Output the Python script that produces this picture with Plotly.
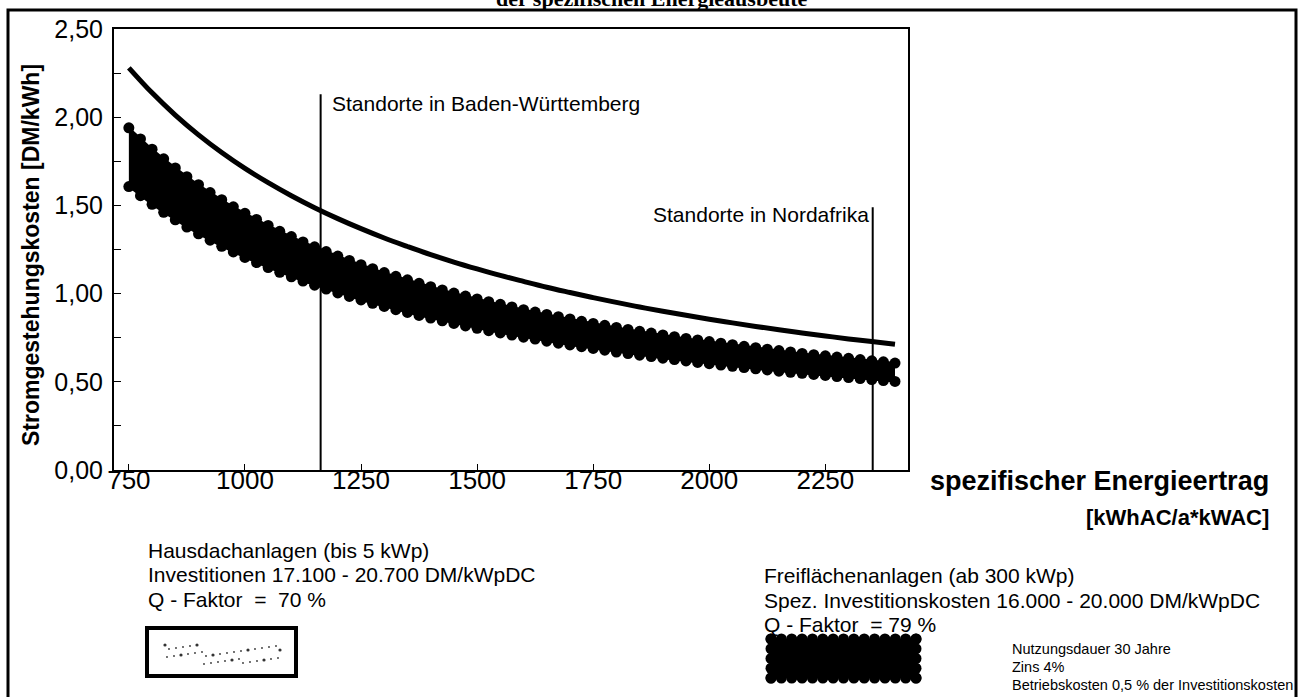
import plotly.graph_objects as go

# ---------------- data ----------------
# spezifischer Energieertrag [kWhAC/a*kWAC]
x_upper = [750, 800, 850, 900, 950, 1000, 1050, 1100, 1150, 1200, 1250, 1300,
           1350, 1400, 1450, 1500, 1550, 1600, 1650, 1700, 1750, 1800, 1850,
           1900, 1950, 2000, 2050, 2100, 2150, 2200, 2250, 2300, 2350, 2400]
# upper solid curve, Stromgestehungskosten [DM/kWh]
y_upper = [2.280, 2.138, 2.012, 1.900, 1.800, 1.710, 1.629, 1.555, 1.487, 1.425,
           1.368, 1.315, 1.267, 1.221, 1.179, 1.140, 1.103, 1.069, 1.036, 1.006,
           0.977, 0.950, 0.924, 0.900, 0.877, 0.855, 0.834, 0.814, 0.795, 0.777,
           0.760, 0.743, 0.728, 0.713]

x_band = list(range(750, 2401, 25))
# upper edge of the dotted band (Freiflächen / Hausdach)
y_band_top = [1.940, 1.877, 1.819, 1.764, 1.712, 1.663, 1.617, 1.573, 1.532, 1.492,
              1.455, 1.420, 1.386, 1.353, 1.323, 1.293, 1.265, 1.238, 1.213, 1.188,
              1.164, 1.141, 1.119, 1.098, 1.078, 1.058, 1.039, 1.021, 1.003, 0.986,
              0.970, 0.954, 0.939, 0.924, 0.909, 0.895, 0.882, 0.869, 0.856, 0.843,
              0.831, 0.820, 0.808, 0.797, 0.786, 0.776, 0.766, 0.756, 0.746, 0.737,
              0.728, 0.719, 0.710, 0.701, 0.693, 0.685, 0.677, 0.669, 0.661, 0.654,
              0.647, 0.640, 0.633, 0.626, 0.619, 0.613, 0.606]
# lower edge of the dotted band
y_band_bot = [1.607, 1.555, 1.506, 1.461, 1.418, 1.377, 1.339, 1.303, 1.268, 1.236,
              1.205, 1.176, 1.148, 1.121, 1.095, 1.071, 1.048, 1.026, 1.004, 0.984,
              0.964, 0.945, 0.927, 0.909, 0.893, 0.876, 0.861, 0.846, 0.831, 0.817,
              0.803, 0.790, 0.777, 0.765, 0.753, 0.742, 0.730, 0.719, 0.709, 0.699,
              0.689, 0.679, 0.669, 0.660, 0.651, 0.643, 0.634, 0.626, 0.618, 0.610,
              0.603, 0.595, 0.588, 0.581, 0.574, 0.567, 0.560, 0.554, 0.548, 0.542,
              0.536, 0.530, 0.524, 0.518, 0.513, 0.507, 0.502]

x_ticks = [750, 1000, 1250, 1500, 1750, 2000, 2250]
y_ticks = [0.0, 0.5, 1.0, 1.5, 2.0, 2.5]
y_ticktext = ["0,00", "0,50", "1,00", "1,50", "2,00", "2,50"]

bw_x, bw_top = 1163, 2.13      # Standorte in Baden-Württemberg
na_x, na_top = 2352, 1.49      # Standorte in Nordafrika

# ---------------- layout geometry ----------------
W, H = 1301, 697
L, R, T, B = 114, 908, 29, 470


def px(x):
    return (x - L) / (R - L)


def py(y):
    return (B - y) / (B - T)


SANS = "Liberation Sans, Arial, sans-serif"

fig = go.Figure()

# band: upper edge then lower edge filled to it
fig.add_trace(go.Scatter(x=x_band, y=y_band_top, mode="lines+markers",
                         line=dict(color="black", width=2),
                         marker=dict(color="black", size=11),
                         showlegend=False, hoverinfo="skip"))
fig.add_trace(go.Scatter(x=x_band, y=y_band_bot, mode="lines+markers",
                         line=dict(color="black", width=2),
                         marker=dict(color="black", size=11),
                         fill="tonexty", fillcolor="black",
                         showlegend=False, hoverinfo="skip"))
# upper solid curve
fig.add_trace(go.Scatter(x=x_upper, y=y_upper, mode="lines",
                         line=dict(color="black", width=5, shape="spline"),
                         showlegend=False, hoverinfo="skip"))

shapes = []
# site marker lines
shapes.append(dict(type="line", xref="x", yref="y", x0=bw_x, x1=bw_x, y0=0, y1=bw_top,
                   line=dict(color="black", width=2)))
shapes.append(dict(type="line", xref="x", yref="y", x0=na_x, x1=na_x, y0=0, y1=na_top,
                   line=dict(color="black", width=2)))
# outer frame
shapes.append(dict(type="rect", xref="paper", yref="paper",
                   x0=px(8), x1=px(1296), y0=py(710), y1=py(10),
                   line=dict(color="black", width=3)))
# legend box Hausdach (white with a sparse dot texture)
shapes.append(dict(type="rect", xref="paper", yref="paper",
                   x0=px(147), x1=px(296), y0=py(676), y1=py(628),
                   line=dict(color="black", width=4), fillcolor="white"))
for k in range(36):
    cx = 165 + (k * 37) % 118
    cy = 645 + (k * 7) % 20
    rr = 0.9 if k % 5 else 1.6
    shapes.append(dict(type="circle", xref="paper", yref="paper",
                       x0=px(cx - rr), x1=px(cx + rr), y0=py(cy + rr), y1=py(cy - rr),
                       line=dict(width=0), fillcolor="#333333"))
# legend box Freiflächen (black, scalloped)
bx0, bx1, by0, by1 = 771, 916, 639, 678
shapes.append(dict(type="rect", xref="paper", yref="paper",
                   x0=px(bx0), x1=px(bx1), y0=py(by1), y1=py(by0),
                   line=dict(color="black", width=0), fillcolor="black"))
r = 5.5
n_h = 15
for i in range(n_h):
    cx = bx0 + (bx1 - bx0) * i / (n_h - 1)
    for cy in (by0, by1):
        shapes.append(dict(type="circle", xref="paper", yref="paper",
                           x0=px(cx - r), x1=px(cx + r), y0=py(cy + r), y1=py(cy - r),
                           line=dict(width=0), fillcolor="black"))
n_v = 5
for j in range(n_v):
    cy = by0 + (by1 - by0) * j / (n_v - 1)
    for cx in (bx0, bx1):
        shapes.append(dict(type="circle", xref="paper", yref="paper",
                           x0=px(cx - r), x1=px(cx + r), y0=py(cy + r), y1=py(cy - r),
                           line=dict(width=0), fillcolor="black"))

ann = []


def text(x, y, s, size, xanchor="left", yanchor="middle", bold=False, family=SANS, angle=0):
    ann.append(dict(xref="paper", yref="paper", x=px(x), y=py(y), text=s,
                    showarrow=False, xanchor=xanchor, yanchor=yanchor, textangle=angle,
                    font=dict(family=family, size=size, color="black",
                              weight="bold" if bold else "normal")))


# cut-off title at the very top
text(651, 13, "der spezifischen Energieausbeute", 22, xanchor="center", yanchor="bottom",
     bold=True, family="Liberation Serif, Times New Roman, serif")
# y-axis title
text(31, 255, "Stromgestehungskosten [DM/kWh]", 23, xanchor="center", yanchor="middle",
     bold=True, angle=-90)
# site labels
text(330, 104, "Standorte in Baden-Württemberg", 21)
text(651, 214, "Standorte in Nordafrika", 21)
# x-axis title
text(1271, 481, "spezifischer Energieertrag", 27, xanchor="right", bold=True)
text(1271, 517, "[kWhAC/a*kWAC]", 22, xanchor="right", bold=True)
# left block
text(146, 550, "Hausdachanlagen (bis 5 kWp)", 21)
text(146, 574, "Investitionen 17.100 - 20.700 DM/kWpDC", 21)
text(146, 599, "Q - Faktor  =  70 %", 21)
# right block
text(762, 575, "Freiflächenanlagen (ab 300 kWp)", 21)
text(762, 600, "Spez. Investitionskosten 16.000 - 20.000 DM/kWpDC", 21)
text(762, 624, "Q - Faktor  = 79 %", 21)
# small notes
text(1010, 649, "Nutzungsdauer 30 Jahre", 14.5)
text(1010, 667, "Zins 4%", 14.5)
text(1010, 685, "Betriebskosten 0,5 % der Investitionskosten", 14.5)

fig.update_layout(
    width=W, height=H,
    margin=dict(l=L, r=W - R, t=T, b=H - B, pad=0),
    paper_bgcolor="white", plot_bgcolor="white",
    shapes=shapes, annotations=ann,
    showlegend=False,
    font=dict(family=SANS, color="black"),
)
fig.update_xaxes(range=[718, 2428], tickvals=x_ticks, ticktext=[str(v) for v in x_ticks],
                 ticks="inside", ticklen=6, tickcolor="black", tickwidth=1,
                 showline=True, linecolor="black", linewidth=2, mirror=True,
                 showgrid=False, zeroline=False, ticklabelstandoff=-14,
                 tickfont=dict(family=SANS, size=26, color="black"))
fig.update_yaxes(range=[0, 2.5], tickvals=y_ticks, ticktext=y_ticktext,
                 ticks="inside", ticklen=7, tickcolor="black", tickwidth=1,
                 minor=dict(dtick=0.25, ticks="inside", ticklen=7, tickcolor="black", showgrid=False),
                 showline=True, linecolor="black", linewidth=2, mirror=True,
                 showgrid=False, zeroline=False, ticklabelstandoff=4,
                 tickfont=dict(family=SANS, size=25, color="black"))

# the page's default 8px body margin would shift the figure; remove it
fig.write_html("out.html", config={"displayModeBar": False},
               post_script="document.body.style.margin='0px';")
